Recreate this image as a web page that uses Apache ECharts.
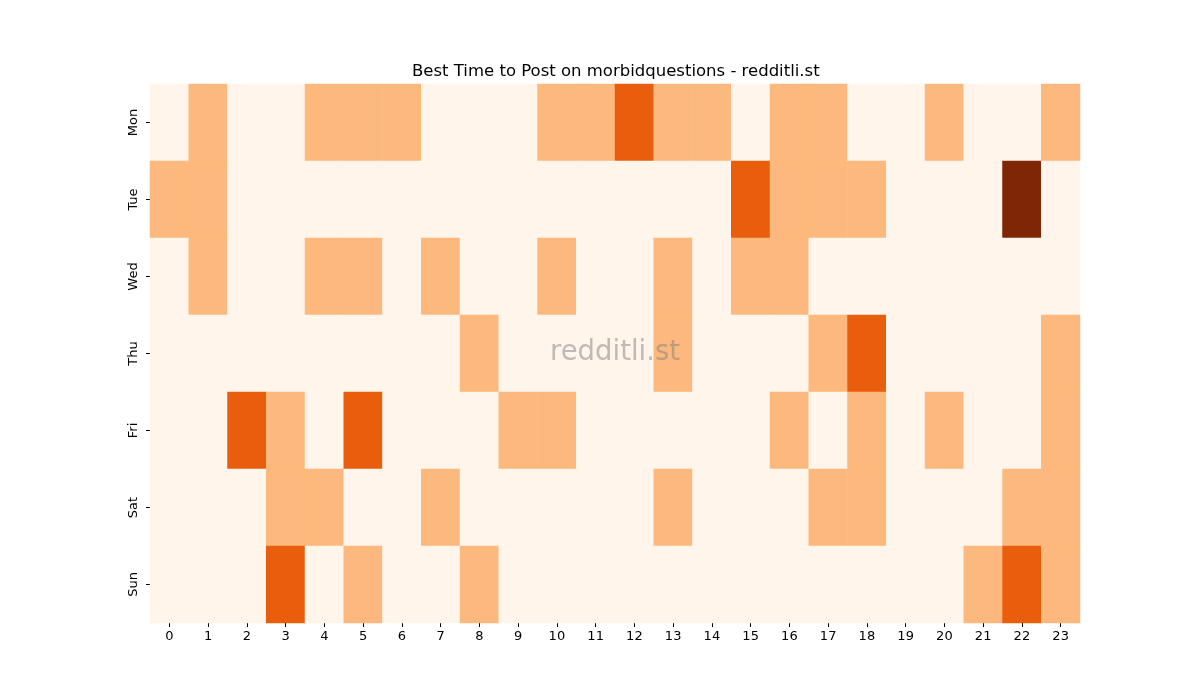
<!DOCTYPE html>
<html>
<head>
<meta charset="utf-8">
<script src="https://cdn.jsdelivr.net/npm/echarts@6/dist/echarts.min.js"></script>
<style>
  html, body { margin: 0; padding: 0; background: #fff; }
  #main { width: 1200px; height: 700px; }
</style>
</head>
<body>
<div id="main"></div>
<script>
// hours along x, days down y
const hours = ['0','1','2','3','4','5','6','7','8','9','10','11','12','13','14','15','16','17','18','19','20','21','22','23'];
const days = ['Mon','Tue','Wed','Thu','Fri','Sat','Sun'];

const mon = [0,1,0,0,1,1,1,0,0,0,1,1,2,1,1,0,1,1,0,0,1,0,0,1];
const tue = [1,1,0,0,0,0,0,0,0,0,0,0,0,0,0,2,1,1,1,0,0,0,3,0];
const wed = [0,1,0,0,1,1,0,1,0,0,1,0,0,1,0,1,1,0,0,0,0,0,0,0];
const thu = [0,0,0,0,0,0,0,0,1,0,0,0,0,1,0,0,0,1,2,0,0,0,0,1];
const fri = [0,0,2,1,0,2,0,0,0,1,1,0,0,0,0,0,1,0,1,0,1,0,0,1];
const sat = [0,0,0,1,1,0,0,1,0,0,0,0,0,1,0,0,0,1,1,0,0,0,1,1];
const sun = [0,0,0,2,0,1,0,0,1,0,0,0,0,0,0,0,0,0,0,0,0,1,2,1];

const rows = [mon, tue, wed, thu, fri, sat, sun];
let cells = [];
rows.forEach((row, d) => {
  row.forEach((v, h) => { cells.push([h, d, v]); });
});

const font = 'DejaVu Sans';
let chart = echarts.init(document.getElementById('main'));
chart.setOption({
  animation: false,
  textStyle: { fontFamily: font },
  title: {
    text: 'Best Time to Post on morbidquestions - redditli.st',
    left: 407, top: 58,
    textStyle: { fontFamily: font, fontSize: 16.5, fontWeight: 'normal', color: '#000' }
  },
  grid: { left: 150, right: 120, top: 84, bottom: 77 },
  xAxis: {
    type: 'category',
    data: hours,
    axisLine: { show: false },
    axisTick: { show: true, alignWithLabel: true, length: 4, lineStyle: { color: '#000' } },
    axisLabel: { color: '#000', fontSize: 13, margin: 7 },
    splitLine: { show: false }
  },
  yAxis: {
    type: 'category',
    data: days,
    inverse: true,
    axisLine: { show: false },
    axisTick: { show: true, alignWithLabel: true, length: 4, lineStyle: { color: '#000' } },
    axisLabel: { color: '#000', fontSize: 13, rotate: 90, margin: 10 },
    splitLine: { show: false }
  },
  visualMap: {
    show: false,
    type: 'piecewise',
    dimension: 2,
    pieces: [
      { value: 0, color: '#fff5eb' },
      { value: 1, color: '#fdb97d' },
      { value: 2, color: '#e95e0d' },
      { value: 3, color: '#7f2704' }
    ]
  },
  graphic: [{
    type: 'text',
    x: 615, y: 353,
    style: {
      text: 'redditli.st',
      font: '27.5px "DejaVu Sans"',
      fill: 'rgba(128,128,128,0.5)',
      align: 'center',
      verticalAlign: 'middle'
    },
    z: 100
  }],
  series: [{
    type: 'heatmap',
    data: cells,
    itemStyle: { borderWidth: 0 },
    emphasis: { disabled: true }
  }]
});
</script>
</body>
</html>
